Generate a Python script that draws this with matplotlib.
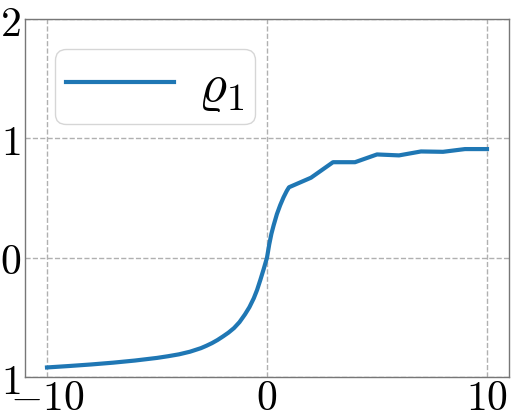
import numpy as np
import matplotlib
matplotlib.use("Agg")
import matplotlib.pyplot as plt

plt.rcParams['mathtext.fontset'] = 'cm'
plt.rcParams['font.family'] = 'serif'
plt.rcParams['font.serif'] = ['DejaVu Serif']

# values
x_vals = [-10, -9, -8, -7, -6, -5, -4.5, -4, -3.5, -3, -2.75, -2.5, -2.25, -2,
          -1.75, -1.5, -1.25, -1, -0.8, -0.6, -0.45, -0.3, -0.15, 0,
          0.1, 0.2, 0.3, 0.45, 0.6, 0.75, 0.9, 1,
          2, 3, 4, 5, 6, 7, 8, 9, 10]
rho1 = [-0.92, -0.908, -0.895, -0.88, -0.862, -0.84, -0.826, -0.81, -0.788, -0.758,
        -0.738, -0.716, -0.69, -0.66, -0.628, -0.59, -0.54, -0.475, -0.415, -0.34,
        -0.27, -0.185, -0.095, 0.0,
        0.11, 0.2, 0.27, 0.365, 0.44, 0.505, 0.56, 0.59,
        0.67, 0.80, 0.80, 0.865, 0.857, 0.89, 0.887, 0.91, 0.91]

x_ticks = [-10, 0, 10]
x_ticklabels = ['$-10$', '$0$', '$10$']
y_ticks = [-1, 0, 1, 2]
y_ticklabels = ['$-1$', '$0$', '$1$', '$2$']

fig = plt.figure(figsize=(5.15, 4.12), dpi=100)
ax = fig.add_axes([25 / 515, 35 / 412, 484 / 515, 358 / 412])

ax.plot(x_vals, rho1, color='#1f77b4', lw=3, label=r'$\varrho_1$')

ax.set_xlim(-11, 11)
ax.set_ylim(-1, 2)
ax.set_xticks(x_ticks)
ax.set_xticklabels(x_ticklabels)
ax.set_yticks(y_ticks)
ax.set_yticklabels(y_ticklabels)
ax.tick_params(axis='both', length=0, labelsize=30)
ax.tick_params(axis='x', pad=0)
ax.tick_params(axis='y', pad=3)

ax.grid(True, linestyle='--', color='#b0b0b0', lw=1)
for s in ax.spines.values():
    s.set_color('#777777')
    s.set_linewidth(1)

ax.legend(loc='upper left', fontsize=39, handlelength=2.0, handletextpad=0.45,
          borderpad=0.2, borderaxespad=0.55)

fig.savefig('out.png', dpi=100)
